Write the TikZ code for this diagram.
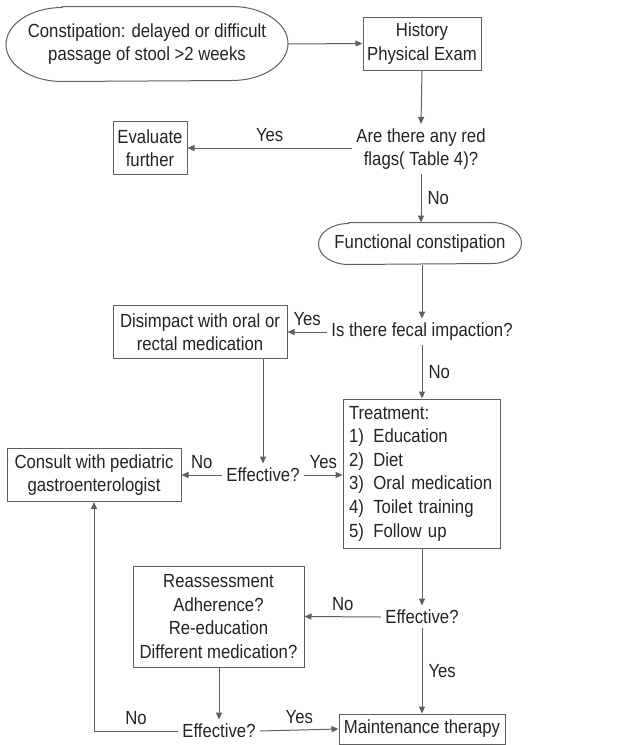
\documentclass[tikz,border=0pt]{standalone}
\usepackage{fontspec}
\setmainfont{Liberation Sans}[FakeStretch=0.88]
\usepackage{tikz}
\usetikzlibrary{arrows.meta}
\definecolor{trait}{RGB}{95,95,95}
\definecolor{texte}{RGB}{35,35,35}

\begin{document}
\begin{tikzpicture}[x=0.5pt,y=-0.5pt,line width=0.5pt,
  font=\fontsize{9.5}{11.7}\selectfont,text=texte,
  boite/.style={rectangle,draw=trait,align=center,inner sep=0pt},
  capsule/.style={rectangle,align=center,inner sep=0pt},
  question/.style={align=center,inner sep=2pt},
  fleche/.style={draw=trait,-{Triangle[length=3.5pt,width=3pt]}},
  etiq/.style={inner sep=3pt}]
  \useasboundingbox (0,0) rectangle (639,745);

  % debut et examen
  \node[capsule,minimum width=140.5pt,minimum height=37pt] (debut) at (147,44)
    {Constipation: delayed or difficult\\passage of stool >2 weeks};
  \draw[trait] ([xshift=28pt]debut.north west) -- ([xshift=-28pt]debut.north east)
    arc[start angle=90,end angle=-90,x radius=28pt,y radius=18.5pt]
    -- ([xshift=28pt]debut.south west)
    arc[start angle=270,end angle=90,x radius=28pt,y radius=18.5pt] -- cycle;
  \node[boite,minimum width=59pt,minimum height=26.5pt] (histoire) at (422,43.5)
    {History\\Physical Exam};
  \node[question] (drapeaux) at (421,149) {Are there any red\\flags( Table 4)?};
  \node[boite,minimum width=37pt,minimum height=26.5pt] (evaluer) at (150,148)
    {Evaluate\\further};

  \node[capsule,minimum width=101pt,minimum height=20.5pt] (fonct) at (420,243.5)
    {Functional constipation};
  \draw[trait] ([xshift=15pt]fonct.north west) -- ([xshift=-15pt]fonct.north east)
    arc[start angle=90,end angle=-90,x radius=15pt,y radius=10.25pt]
    -- ([xshift=15pt]fonct.south west)
    arc[start angle=270,end angle=90,x radius=15pt,y radius=10.25pt] -- cycle;

  % impaction
  \node[question] (fecal) at (422,332) {Is there fecal impaction?};
  \node[boite,minimum width=87pt,minimum height=26.5pt] (desimp) at (200,332)
    {Disimpact with oral or\\rectal medication};
  \node[question] (eff1) at (263,475) {Effective?};
  \node[boite,minimum width=87pt,minimum height=26.5pt] (consult) at (94,475)
    {Consult with pediatric\\gastroenterologist};
  \node[boite,minimum width=78.5pt,minimum height=74.5pt,align=left,
        text width=72.5pt,inner xsep=3pt,font=\fontsize{9.5}{11.8}\selectfont] (traitement) at (421.5,473.5)
    {Treatment:\\1)\, Education\\2)\, Diet\\3)\, Oral medication\\4)\, Toilet training\\5)\, Follow up};

  % suivi
  \node[question] (eff2) at (422,617) {Effective?};
  \node[boite,minimum width=85.5pt,minimum height=50.5pt] (reeval) at (218.5,616.5)
    {Reassessment\\Adherence?\\Re-education\\Different medication?};
  \node[question] (eff3) at (219,731) {Effective?};
  \node[boite,minimum width=83pt,minimum height=15pt] (maint) at (422,729)
    {Maintenance therapy};

  \draw[fleche] (debut.east) -- (histoire.west);
  \draw[fleche] (histoire.south) -- (drapeaux.north);
  \draw[fleche] (drapeaux.west |- evaluer.east) -- node[etiq,above] {Yes} (evaluer.east);
  \draw[fleche] (drapeaux.south) -- node[etiq,right] {No} (fonct.north -| drapeaux.south);
  \draw[fleche] (fonct.south -| fecal.north) -- (fecal.north);
  \draw[fleche] (fecal.west) -- node[etiq,above] {Yes} (desimp.east);
  \draw[fleche] (fecal.south) -- node[etiq,right] {No} (traitement.north -| fecal.south);
  \draw[fleche] (eff1.north |- desimp.south) -- (eff1.north);
  \draw[fleche] (eff1.west) -- node[etiq,above] {No} (consult.east);
  \draw[fleche] (eff1.east) -- node[etiq,above] {Yes} (eff1.east -| traitement.west);
  \draw[fleche] (traitement.south -| eff2.north) -- (eff2.north);
  \draw[fleche] (eff2.west) -- node[etiq,above] {No} (reeval.east);
  \draw[fleche] (reeval.south -| eff3.north) -- (eff3.north);
  \draw[fleche] (eff2.south) -- node[etiq,right] {Yes} (maint.north -| eff2.south);
  \draw[fleche] (eff3.east) -- node[etiq,above] {Yes} (maint.west);
  \draw[fleche] (eff3.west) -| node[etiq,above,pos=0.25] {No} (consult.south);
\end{tikzpicture}
\end{document}
